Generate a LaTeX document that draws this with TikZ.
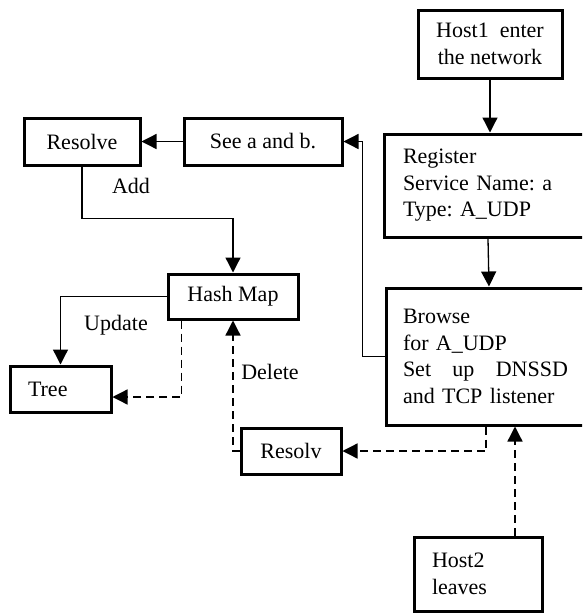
\documentclass[tikz,border=0pt]{standalone}
\usepackage{fontspec}
\setmainfont{Liberation Serif}
\usetikzlibrary{arrows.meta,calc}
\frenchspacing
\begin{document}
\begin{tikzpicture}[x=1pt,y=-1pt,
  font=\fontsize{22}{26.5}\selectfont,
  box/.style={draw,line width=3pt,rectangle,inner sep=0pt,align=center},
  lbox/.style={box,align=left},
  arr/.style={line width=1.3pt,-{Triangle[length=15pt,width=15pt]}},
  darr/.style={arr,dash pattern=on 8pt off 5pt},
  lbl/.style={inner sep=0pt}]
\useasboundingbox (0,0) rectangle (582,614);
\clip (0,0) rectangle (582,614);
% boxes
\node[box,minimum width=144pt,minimum height=68pt] (host1) at (490,44) {Host1~ enter\\the network};
\node[lbox,minimum width=208pt,minimum height=103pt,text width=170pt,inner xsep=19pt] (reg) at (488,185.5) {Register\\Service Name: a\\Type: A\_UDP};
\node[lbox,minimum width=206pt,minimum height=137pt,text width=172pt,inner xsep=17pt] (browse) at (489,356.5) {Browse\\for A\_UDP\\\leavevmode\hbox to 165pt{Set\hfill up\hfill DNSSD}\\and TCP listener};
\node[box,minimum width=158pt,minimum height=47pt] (see) at (263,141.5) {See a and b.};
\node[box,minimum width=116pt,minimum height=47pt] (resolve) at (82,141.5) {Resolve};
\node[box,minimum width=130pt,minimum height=45pt] (hash) at (233,296.5) {Hash Map};
\node[lbox,minimum width=101pt,minimum height=46pt,text width=65pt,inner xsep=18pt] (tree) at (60.5,389) {Tree};
\node[box,minimum width=100pt,minimum height=46pt] (resolv) at (291,451) {Resolv};
\node[lbox,minimum width=128pt,minimum height=74pt,text width=92pt,inner xsep=18pt] (host2) at (478,574) {Host2\\leaves};
% labels
\node[lbl] (add) at (131,186) {Add};
\node[lbl] (upd) at (116,325) {Update};
\node[lbl] (del) at (270,372) {Delete};
% connectors
\draw[arr] (host1.south) -- (host1.south |- reg.north);
\draw[arr] (reg.south) -- (browse.north);
\draw[arr] (browse.west) -- ++(-22,0) |- (see.east);
\draw[arr] (see.west) -- (resolve.east);
\draw[arr] (resolve.south) -- ++(0,52) -| (hash.north);
\draw[arr] (hash.west) -| (tree.north);
\draw[darr] ([xshift=15pt]hash.south west) |- ([yshift=-8pt]tree.east);
\draw[darr] (resolv.west) -| (hash.south);
\draw[darr] ([xshift=-3pt]browse.south) |- (resolv.east);
\draw[darr] ([xshift=37pt]host2.north) -- ([xshift=37pt]host2.north |- browse.south);
\end{tikzpicture}
\end{document}
